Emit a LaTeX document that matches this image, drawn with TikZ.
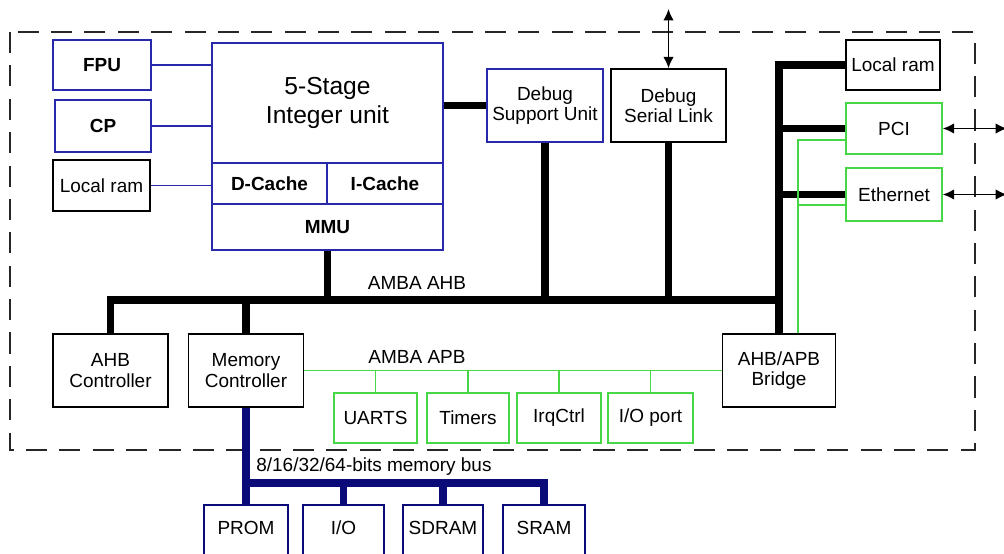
\documentclass[tikz,border=0pt]{standalone}
\usepackage{fontspec}
\setmainfont{Liberation Sans}
\usetikzlibrary{arrows.meta}

\definecolor{cpublue}{RGB}{40,40,170}
\definecolor{apbgreen}{RGB}{70,215,70}
\definecolor{memnavy}{RGB}{10,10,120}

\tikzset{
  blk/.style 2 args={draw, line width=0.8pt, inner sep=0pt, align=center,
    minimum width=#1*0.02cm, minimum height=#2*0.02cm,
    font=\fontsize{10.8}{11.5}\selectfont},
  heavy/.style={font=\fontsize{10.8}{11.5}\selectfont\bfseries},
  cpu/.style={draw=cpublue},
  apbdev/.style={draw=apbgreen},
  memdev/.style={draw=memnavy, text depth=0.28cm},
  lbl/.style={inner sep=0pt, font=\fontsize{10.8}{11.5}\selectfont},
  ahbline/.style={line width=4.5pt},
  apbline/.style={apbgreen, line width=0.9pt},
  memline/.style={memnavy, line width=4.5pt},
  cpuline/.style={cpublue, line width=0.9pt},
}

\begin{document}
\begin{tikzpicture}[x=0.02cm, y=-0.02cm, >={Latex[length=6.5pt,width=6pt]}]
  \useasboundingbox (0,0) rectangle (1004,554);
  \clip (0,0) rectangle (1004,554);

  % chip boundary
  \draw[black!85, line width=0.9pt, dash pattern=on 12pt off 7pt] (10,32) rectangle (975,450);

  % processor core
  \node[blk={98}{50}, cpu, heavy] (fpu) at (102,65) {FPU};
  \node[blk={96}{52}, cpu, heavy] (cp) at (103,126) {CP};
  \node[blk={97}{51}] (lramA) at (101.5,185.5) {Local ram};
  \node[blk={231}{120}, cpu, font=\fontsize{14}{16}\selectfont] (iu) at (327.5,103) {5-Stage\\Integer unit};
  \node[blk={115}{41}, cpu, heavy] (dcache) at (269.5,183.5) {D-Cache};
  \node[blk={116}{41}, cpu, heavy] (icache) at (385,183.5) {I-Cache};
  \node[blk={231}{46}, cpu, heavy] (mmu) at (327.5,227) {MMU};

  % debug
  \node[blk={116}{73}, cpu] (dsu) at (545,105.5) {Debug\\Support Unit};
  \node[blk={115}{73}] (dsl) at (668.5,105.5) {Debug\\Serial Link};

  % right hand side
  \node[blk={94}{50}] (lramB) at (893,65) {Local ram};
  \node[blk={96}{51}, apbdev] (pci) at (894,128.5) {PCI};
  \node[blk={96}{53}, apbdev] (eth) at (894,194.5) {Ethernet};

  % AHB slaves
  \node[blk={115}{73}] (ahbc) at (110.5,370.5) {AHB\\Controller};
  \node[blk={115}{73}] (memc) at (246,370.5) {Memory\\Controller};
  \node[blk={113}{73}] (bridge) at (779,370.5) {AHB/APB\\Bridge};

  % APB slaves
  \node[blk={83}{50}, apbdev] (uarts) at (375.5,418) {UARTS};
  \node[blk={82}{50}, apbdev] (timers) at (468,418) {Timers};
  \node[blk={84}{50}, apbdev] (irqctrl) at (559,418) {IrqCtrl};
  \node[blk={85}{50}, apbdev] (ioport) at (650.5,418) {I/O port};

  % external memory
  \node[blk={84}{60}, memdev] (prom) at (246,535) {PROM};
  \node[blk={81}{60}, memdev] (io) at (343.5,535) {I/O};
  \node[blk={80}{60}, memdev] (sdram) at (443,535) {SDRAM};
  \node[blk={82}{60}, memdev] (sram) at (544,535) {SRAM};

  % core links
  \draw[cpuline] (fpu.east) -- (fpu.east -| iu.west);
  \draw[cpuline] (cp.east) -- (cp.east -| iu.west);
  \draw[cpuline] (lramA.east) -- (lramA.east -| dcache.west);
  \draw[ahbline] (iu.east |- dsu.west) -- (dsu.west);

  % AMBA AHB
  \coordinate (ahb) at (0,300);
  \draw[ahbline] (ahbc.north) |- (bridge.north |- ahb);
  \draw[ahbline] (memc.north) -- (memc.north |- ahb);
  \draw[ahbline] (mmu.south) -- (mmu.south |- ahb);
  \draw[ahbline] (dsu.south) -- (dsu.south |- ahb);
  \draw[ahbline] (dsl.south) -- (dsl.south |- ahb);
  \draw[ahbline] (lramB.west) -| (bridge.north);
  \draw[ahbline] (pci.west) -- (pci.west -| bridge.north);
  \draw[ahbline] (eth.west) -- (eth.west -| bridge.north);

  % AMBA APB
  \draw[apbline] (memc.east) -- (bridge.west);
  \foreach \dev in {uarts,timers,irqctrl,ioport}
    \draw[apbline] (\dev.north) -- (\dev.north |- memc.east);
  \coordinate (gx) at (798,0);
  \coordinate (pcig) at ([yshift=-0.23cm]pci.west);
  \coordinate (ethg) at ([yshift=-0.21cm]eth.west);
  \draw[apbline] (gx |- bridge.north) |- (pcig);
  \draw[apbline] (gx |- ethg) -- (ethg);

  % memory bus
  \coordinate (mb) at (0,483);
  \draw[memline] (memc.south) -- (prom.north);
  \draw[memline] (prom.north |- mb) -| (sram.north);
  \draw[memline] (io.north) -- (io.north |- mb);
  \draw[memline] (sdram.north) -- (sdram.north |- mb);

  % off-chip links
  \coordinate (jtag) at (668.5,9);
  \coordinate (xr) at (1007,0);
  \draw[<->, line width=1pt] (jtag) -- (dsl.north);
  \draw[<->, line width=1pt] (pci.east) -- (pci.east -| xr);
  \draw[<->, line width=1pt] (eth.east) -- (eth.east -| xr);

  % bus names
  \node[lbl] (ahblbl) at (417,283) {AMBA AHB};
  \node[lbl] (apblbl) at (417,357) {AMBA APB};
  \node[lbl, anchor=west] (memlbl) at (256,467) {8/16/32/64-bits memory bus};
\end{tikzpicture}
\end{document}
